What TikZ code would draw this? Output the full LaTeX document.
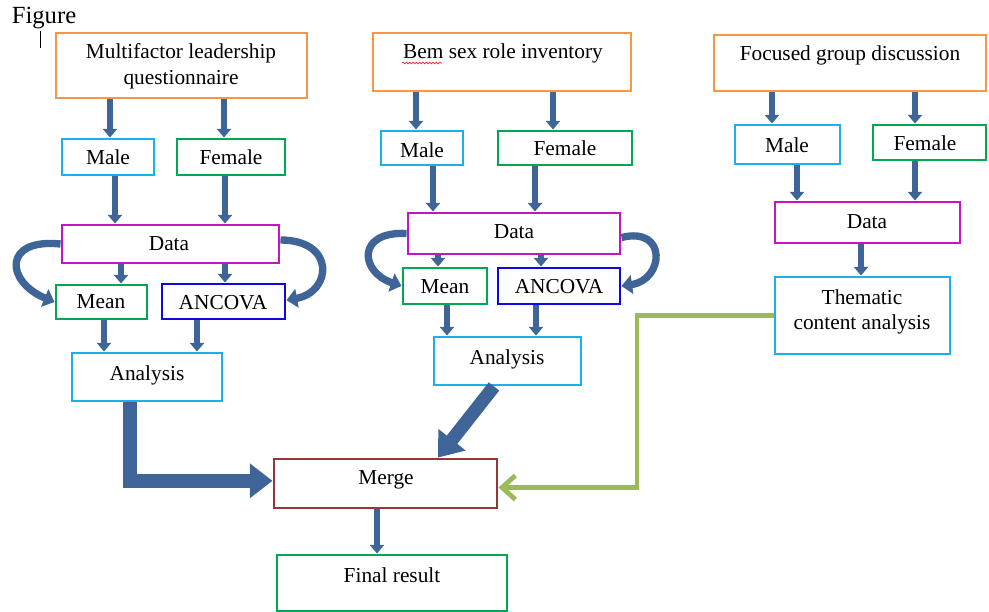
\documentclass[tikz,border=0pt]{standalone}
\usepackage{fontspec}
\setmainfont{Liberation Serif}
\usetikzlibrary{arrows.meta,fit,decorations.pathmorphing}

\definecolor{boxorange}{HTML}{F79646}
\definecolor{boxcyan}{HTML}{1CB0EA}
\definecolor{boxgreen}{HTML}{00A850}
\definecolor{boxmagenta}{HTML}{C414C4}
\definecolor{boxblue}{HTML}{0A0AE6}
\definecolor{boxbrown}{HTML}{953735}
\definecolor{arrowblue}{HTML}{3F6598}
\definecolor{linkgreen}{HTML}{9BBB59}

\begin{document}
\begin{tikzpicture}[x=0.75pt,y=0.75pt,yscale=-1,xscale=1,
    box/.style={draw=#1, line width=2.2pt, inner sep=0pt, fill=white},
    txt/.style={font=\fontsize{16}{19}\selectfont, inner sep=0pt},
    arr/.style={draw=arrowblue, line width=4.8pt, -{Triangle[width=10.5pt,length=6.5pt]}},
    bentarr/.style={draw=arrowblue, line width=5.5pt, -{Triangle[width=14pt,length=8pt]}},
    bigarr/.style={draw=arrowblue, line width=10pt, -{Triangle[width=25pt,length=17pt]}},
    greenarr/.style={draw=linkgreen, line width=3.6pt, -{Straight Barb[width=18pt,length=10pt]}}]
        \useasboundingbox (0,0) rectangle (989,611);
        %Caption
        \node[font=\fontsize{18.5}{22}\selectfont, inner sep=0pt] (fig) at (44,18) {Figure};
        \draw[line width=0.7pt] (40,31) -- (40,48);
        %Left column
        \node[box=boxorange, fit={(56,33) (307,98)}] (mlq) {};
        \node[txt] (mlqa) at (181,53) {Multifactor leadership};
        \node[txt] (mlqb) at (181,80) {questionnaire};
        \node[box=boxcyan, fit={(62,139) (154,175)}] (male1) {};
        \node[txt] at (male1) {Male};
        \node[box=boxgreen, fit={(177,139) (285,175)}] (female1) {};
        \node[txt] at (231,157) {Female};
        \node[box=boxmagenta, fit={(62,225) (279,263)}] (data1) {};
        \node[txt] at (169,244) {Data};
        \node[box=boxgreen, fit={(56,285) (147,319)}] (mean1) {};
        \node[txt] at (101,302) {Mean};
        \node[box=boxblue, fit={(162,284) (285,319)}] (ancova1) {};
        \node[txt] at (223,303) {ANCOVA};
        \node[box=boxcyan, fit={(72,353) (222,401)}] (ana1) {};
        \node[txt] at (147,375) {Analysis};
        %Middle column
        \node[box=boxorange, fit={(373,33) (631,91)}] (bem) {};
        \node[txt] (bemtxt) at (503,53) {Bem sex role inventory};
        \draw[red, line width=0.4pt, decorate, decoration={snake, amplitude=0.7pt, segment length=2.5pt}] (402,63) -- (442,63);
        \node[box=boxcyan, fit={(381,131) (463,165)}] (male2) {};
        \node[txt] at (422,150) {Male};
        \node[box=boxgreen, fit={(498,131) (632,165)}] (female2) {};
        \node[txt] at (565,148) {Female};
        \node[box=boxmagenta, fit={(408,213) (620,254)}] (data2) {};
        \node[txt] at (514,232) {Data};
        \node[box=boxgreen, fit={(403,268) (487,304)}] (mean2) {};
        \node[txt] at (445,287) {Mean};
        \node[box=boxblue, fit={(498,268) (620,304)}] (ancova2) {};
        \node[txt] at (559,287) {ANCOVA};
        \node[box=boxcyan, fit={(434,337) (581,385)}] (ana2) {};
        \node[txt] at (507,359) {Analysis};
        %Right column
        \node[box=boxorange, fit={(714,35) (986,91)}] (fgd) {};
        \node[txt] (fgdtxt) at (850,55) {Focused group discussion};
        \node[box=boxcyan, fit={(735,125) (840,164)}] (male3) {};
        \node[txt] at (787,145) {Male};
        \node[box=boxgreen, fit={(873,125) (986,160)}] (female3) {};
        \node[txt] at (925,143) {Female};
        \node[box=boxmagenta, fit={(775,202) (960,243)}] (data3) {};
        \node[txt] at (867,222) {Data};
        \node[box=boxcyan, fit={(775,277) (950,354)}] (thema) {};
        \node[txt] at (862,297) {Thematic};
        \node[txt] at (862,324) {content analysis};
        %Bottom
        \node[box=boxbrown, fit={(274,459) (497,508)}] (merge) {};
        \node[txt] at (386,480) {Merge};
        \node[box=boxgreen, fit={(277,555) (507,611)}] (final) {};
        \node[txt] at (392,575) {Final result};
        %Straight arrows
        \draw[arr] (110,0 |- mlq.south) -- (110,0 |- male1.north);
        \draw[arr] (224,0 |- mlq.south) -- (224,0 |- female1.north);
        \draw[arr] (115,0 |- male1.south) -- (115,0 |- data1.north);
        \draw[arr] (225,0 |- female1.south) -- (225,0 |- data1.north);
        \draw[arr] (121,0 |- data1.south) -- (121,0 |- mean1.north);
        \draw[arr] (225,0 |- data1.south) -- (225,0 |- ancova1.north);
        \draw[arr] (104,0 |- mean1.south) -- (104,0 |- ana1.north);
        \draw[arr] (197,0 |- ancova1.south) -- (197,0 |- ana1.north);
        \draw[arr] (416,0 |- bem.south) -- (416,0 |- male2.north);
        \draw[arr] (553,0 |- bem.south) -- (553,0 |- female2.north);
        \draw[arr] (433,0 |- male2.south) -- (433,0 |- data2.north);
        \draw[arr] (535,0 |- female2.south) -- (535,0 |- data2.north);
        \draw[arr] (438,0 |- data2.south) -- (438,0 |- mean2.north);
        \draw[arr] (541,0 |- data2.south) -- (541,0 |- ancova2.north);
        \draw[arr] (447,0 |- mean2.south) -- (447,0 |- ana2.north);
        \draw[arr] (536,0 |- ancova2.south) -- (536,0 |- ana2.north);
        \draw[arr] (772,0 |- fgd.south) -- (772,0 |- male3.north);
        \draw[arr] (915,0 |- fgd.south) -- (915,0 |- female3.north);
        \draw[arr] (797,0 |- male3.south) -- (797,0 |- data3.north);
        \draw[arr] (915,0 |- female3.south) -- (915,0 |- data3.north);
        \draw[arr] (861,0 |- data3.south) -- (861,0 |- thema.north);
        \draw[arr] (377,0 |- merge.south) -- (377,0 |- final.north);
        %Bent arrows
        \draw[bentarr] (data1.west) .. controls (2,238) and (6,282) .. (mean1.west);
        \draw[bentarr] ([yshift=-3pt]data1.east) .. controls (336,240) and (332,292) .. ([yshift=-1pt]ancova1.east);
        \draw[bentarr] (data2.west) .. controls (356,231) and (360,272) .. (mean2.west);
        \draw[bentarr] ([yshift=3pt]data2.east) .. controls (668,226) and (664,280) .. (ancova2.east);
        %To merge
        \draw[bigarr] (130,0 |- ana1.south) |- ([yshift=-2pt]merge.west);
        \draw[bigarr] (494,0 |- ana2.south) -- (438,0 |- merge.north);
        \draw[greenarr] (thema.west) -| (637,400) |- ([yshift=3pt]merge.east);
\end{tikzpicture}
\end{document}
